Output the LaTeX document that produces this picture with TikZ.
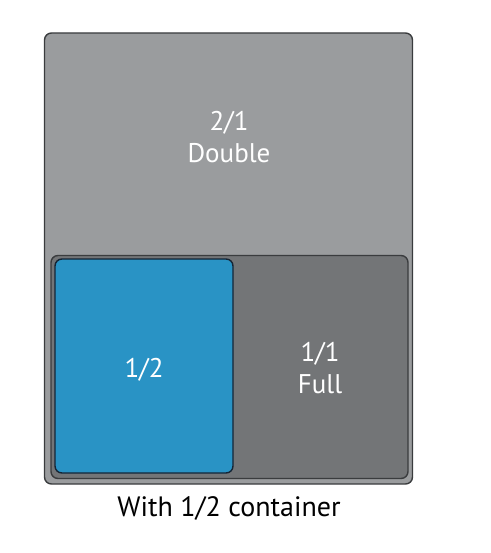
\documentclass[tikz,border=0pt]{standalone}
\usepackage{fontspec}
\setmainfont{PT Sans}
\definecolor{outergray}{HTML}{9A9C9E}
\definecolor{innergray}{HTML}{737577}
\definecolor{halfblue}{HTML}{2993C5}
\definecolor{edgedark}{HTML}{3A3C3E}
\definecolor{edgenavy}{HTML}{152535}
\begin{document}
\begin{tikzpicture}[x=1pt,y=-1pt,
  pan/.style={rounded corners=7pt, line width=1.4pt},
  lbl/.style={text=white, font=\fontsize{27}{32}\selectfont, align=center},
  captext/.style={text=black, font=\fontsize{28}{32}\selectfont}]
\useasboundingbox (0,0) rectangle (490,553);
% outer 2/1 double pan
\node[pan, draw=edgedark, fill=outergray, minimum width=368pt, minimum height=451pt, inner sep=0pt] (double) at (228.5,258.5) {};
% inner 1/1 full pan
\node[pan, draw=edgedark, fill=innergray, minimum width=357pt, minimum height=223pt, inner sep=0pt] (full) at (229.5,367) {};
% 1/2 pan
\node[pan, draw=edgenavy, fill=halfblue, minimum width=178pt, minimum height=214pt, inner sep=0pt] (half) at (144,366) {};
% labels
\node[lbl] (doublelbl) at (229,137) {2/1\\Double};
\node[lbl] (halflbl) at (144,370) {1/2};
\node[lbl] (fulllbl) at (320,368) {1/1\\Full};
\node[captext] (caption) at (229,508) {With 1/2 container};
\end{tikzpicture}
\end{document}
